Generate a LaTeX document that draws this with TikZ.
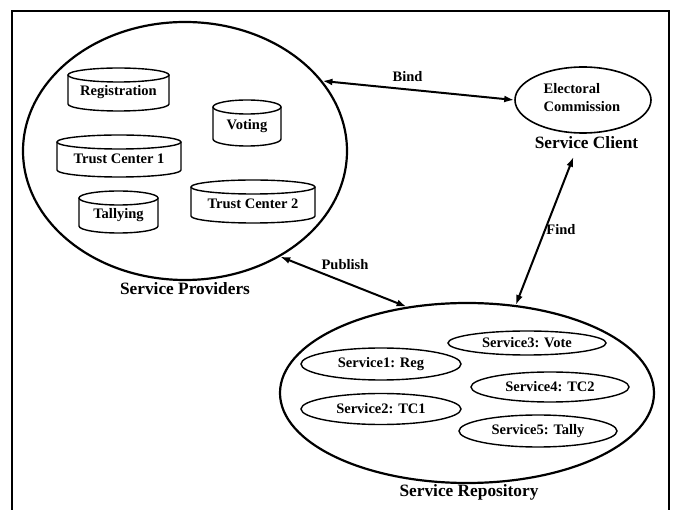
\documentclass[tikz,border=0pt]{standalone}
\usepackage{fontspec}
\setmainfont{Liberation Serif}
\usetikzlibrary{shapes.geometric,arrows.meta}
\newcommand\cylbox[7]{% #1 name, #2 cx, #3 top y, #4 bottom y, #5 half width, #6 text y, #7 text
  \draw[cylline] (#2,#3+7) ellipse [x radius=#5, y radius=7];
  \draw[cylline] (#2-#5,#3+7) -- (#2-#5,#4-7) arc[start angle=180,end angle=0,x radius=#5,y radius=7] -- (#2+#5,#3+7);
  \node[lbl] (#1) at (#2,#6) {#7};
}
\begin{document}
\begin{tikzpicture}[x=1pt,y=-1pt,
  lbl/.style={font=\fontsize{14.5}{18}\selectfont\bfseries, inner sep=0pt},
  grp/.style={font=\fontsize{17.3}{20}\selectfont\bfseries, inner sep=0pt},
  big/.style={ellipse, draw, line width=2.2pt, inner sep=0pt},
  svc/.style={ellipse, draw, line width=1.4pt, inner sep=0pt, font=\fontsize{14.5}{18}\selectfont\bfseries},
  conn/.style={line width=2pt, {Latex[length=10pt,width=7pt]}-{Latex[length=10pt,width=7pt]}},
  cylline/.style={line width=1.4pt}]
\clip (0,0) rectangle (675,510);
\useasboundingbox (0,0) rectangle (675,510);
\draw[line width=2.5pt] (12,11) rectangle (669,540);

% Service providers
\node[big, minimum width=324pt, minimum height=258pt] (sp) at (185,151) {};
\node[grp] (splbl) at (185,289) {Service Providers};
\cylbox{reg}{118.5}{68}{111}{50.5}{92}{Registration}
\cylbox{vot}{247}{100}{146}{34}{126}{Voting}
\cylbox{tc1}{119}{135}{177}{62}{159}{Trust Center 1}
\cylbox{tal}{118.5}{191}{233}{39.5}{215}{Tallying}
\cylbox{tc2}{253}{180}{223}{62}{204}{Trust Center 2}

% Service client
\node[ellipse, draw, line width=1.6pt, inner sep=0pt, minimum width=136pt, minimum height=66pt] (ec) at (583,100) {};
\node[lbl, align=left] (ectext) at (582,98) {Electoral\\Commission};
\node[grp] (scl) at (586.5,142.5) {Service Client};

% Service repository
\node[big, minimum width=374pt, minimum height=180pt] (sr) at (467,393) {};
\node[grp] (srlbl) at (469,492) {Service Repository};
\node[svc, minimum width=158pt, minimum height=24pt] (s3) at (527,343) {Service3: Vote};
\node[svc, minimum width=160pt, minimum height=32pt] (s1) at (381,364) {Service1: Reg};
\node[svc, minimum width=158pt, minimum height=30pt] (s4) at (550,387) {Service4: TC2};
\node[svc, minimum width=160pt, minimum height=31pt] (s2) at (381,409) {Service2: TC1};
\node[svc, minimum width=158pt, minimum height=32pt] (s5) at (538,431) {Service5: Tally};

% connectors
\draw[conn] (sp.27) -- (ec.west);
\draw[conn] ([xshift=-13pt,yshift=-8pt]scl.south) -- (sr.61);
\draw[conn] (sp.-48) -- (sr.125);
\node[lbl] (bind) at (407.5,77) {Bind};
\node[lbl] (find) at (561,230) {Find};
\node[lbl] (pub) at (345,265) {Publish};
\end{tikzpicture}
\end{document}
